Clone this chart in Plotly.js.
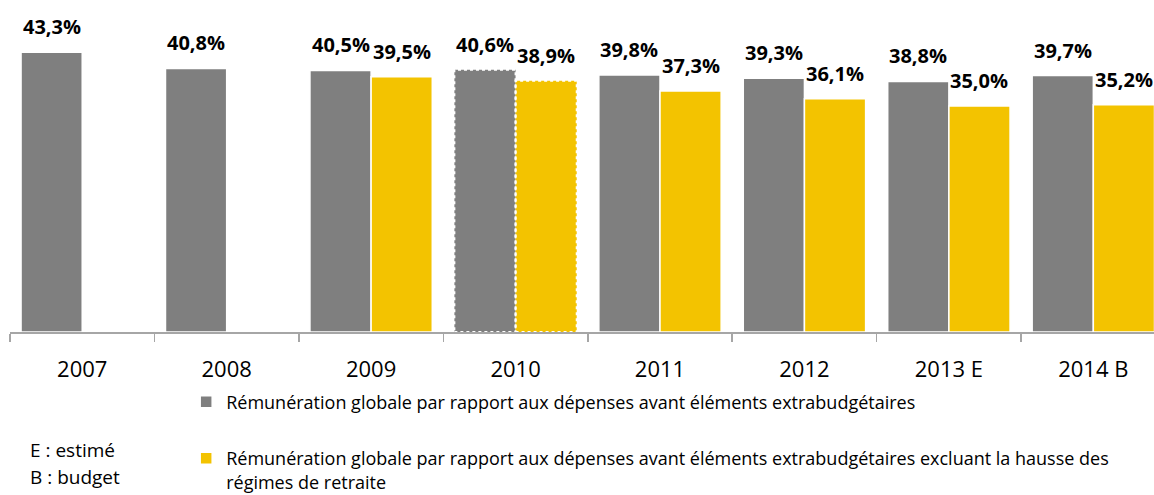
<!DOCTYPE html>
<html>
<head>
<meta charset="utf-8">
<script src="https://cdn.plot.ly/plotly-3.0.1.min.js"></script>
<style>html,body{margin:0;padding:0;background:#fff;}#chart{width:1154px;height:495px;}</style>
</head>
<body>
<div id="chart"></div>
<script>
const categories = ["2007", "2008", "2009", "2010", "2011", "2012", "2013 E", "2014 B"];
const remunGlobale = [43.3, 40.8, 40.5, 40.6, 39.8, 39.3, 38.8, 39.7];
const remunExclRetraite = [null, null, 39.5, 38.9, 37.3, 36.1, 35.0, 35.2];
const seriesNames = [
  "Rémunération globale par rapport aux dépenses avant éléments extrabudgétaires",
  "Rémunération globale par rapport aux dépenses avant éléments extrabudgétaires excluant la hausse des<br>régimes de retraite"
];
const notes = ["E : estimé", "B : budget"];
const estimatedCategory = "2010";

const FONT = "'Open Sans', Lato, sans-serif";
const GRAY = "#7f7f7f";
const YELLOW = "#f3c300";
const BARGAP = 0.153;
const half = (1 - BARGAP) / 4;

function fmt(v) { return v.toFixed(1).replace(".", ",") + "%"; }
const lineWidths = categories.map(c => c === estimatedCategory ? 0 : 1.5);

const traces = [
  {
    type: "bar", x: categories, y: remunGlobale, name: seriesNames[0],
    marker: {color: GRAY, line: {color: "#ffffff", width: lineWidths}},
    hoverinfo: "none", legend: "legend"
  },
  {
    type: "bar", x: categories, y: remunExclRetraite, name: seriesNames[1],
    marker: {color: YELLOW, line: {color: "#ffffff", width: lineWidths}},
    hoverinfo: "none", legend: "legend2"
  }
];

const annotations = [];
categories.forEach((c, i) => {
  [[remunGlobale, -half], [remunExclRetraite, half]].forEach(([arr, off]) => {
    const v = arr[i];
    if (v === null || v === undefined) return;
    annotations.push({
      x: i + off, y: v, xref: "x", yref: "y", text: "<b>" + fmt(v) + "</b>",
      showarrow: false, xanchor: "center", yanchor: "bottom", yshift: 10,
      font: {family: FONT, size: 20, color: "#000"}
    });
  });
});
notes.forEach((t, k) => {
  annotations.push({
    x: 0.0157, y: k === 0 ? -0.355 : -0.437, xref: "paper", yref: "paper",
    text: t, showarrow: false, xanchor: "left", yanchor: "middle",
    font: {family: FONT, size: 19, color: "#000"}
  });
});

const shapes = [];
const ei = categories.indexOf(estimatedCategory);
[[remunGlobale, -1, "#ffffff"], [remunExclRetraite, 1, "#ffffff"]].forEach(([arr, side, col]) => {
  const w = 2 * half;
  const x0 = side < 0 ? ei - w : ei;
  shapes.push({
    type: "rect", xref: "x", yref: "y", x0: x0, x1: x0 + w, y0: 0, y1: arr[ei],
    line: {color: col, width: 2, dash: "dot"}, fillcolor: "rgba(0,0,0,0)"
  });
});

const layout = {
  width: 1154, height: 495,
  margin: {l: 10, r: 0, t: 0, b: 163, autoexpand: false},
  paper_bgcolor: "#ffffff", plot_bgcolor: "#ffffff",
  barmode: "group", bargap: BARGAP, bargroupgap: 0,
  font: {family: FONT, color: "#000"},
  xaxis: {
    type: "category", range: [-0.5, 7.42], fixedrange: true, automargin: false,
    showline: true, linecolor: "#a6a6a6", linewidth: 1.5,
    ticks: "outside", tickson: "boundaries", ticklen: 8, tickcolor: "#a6a6a6", tickwidth: 1.5,
    ticklabelstandoff: 17,
    tickfont: {family: FONT, size: 22, color: "#000"},
    showgrid: false, zeroline: false
  },
  yaxis: {visible: false, range: [0, 51.4], fixedrange: true, automargin: false},
  showlegend: true,
  legend: {
    x: 0.154, y: -0.211, xanchor: "left", yanchor: "middle",
    font: {family: FONT, size: 18, color: "#000"}, bgcolor: "rgba(0,0,0,0)",
    itemwidth: 30
  },
  legend2: {
    x: 0.154, y: -0.416, xanchor: "left", yanchor: "middle", valign: "top",
    font: {family: FONT, size: 18, color: "#000"}, bgcolor: "rgba(0,0,0,0)",
    itemwidth: 30, tracegroupgap: 0
  },
  annotations: annotations,
  shapes: shapes
};

Plotly.newPlot("chart", traces, layout, {displayModeBar: false, staticPlot: true});
</script>
</body>
</html>
